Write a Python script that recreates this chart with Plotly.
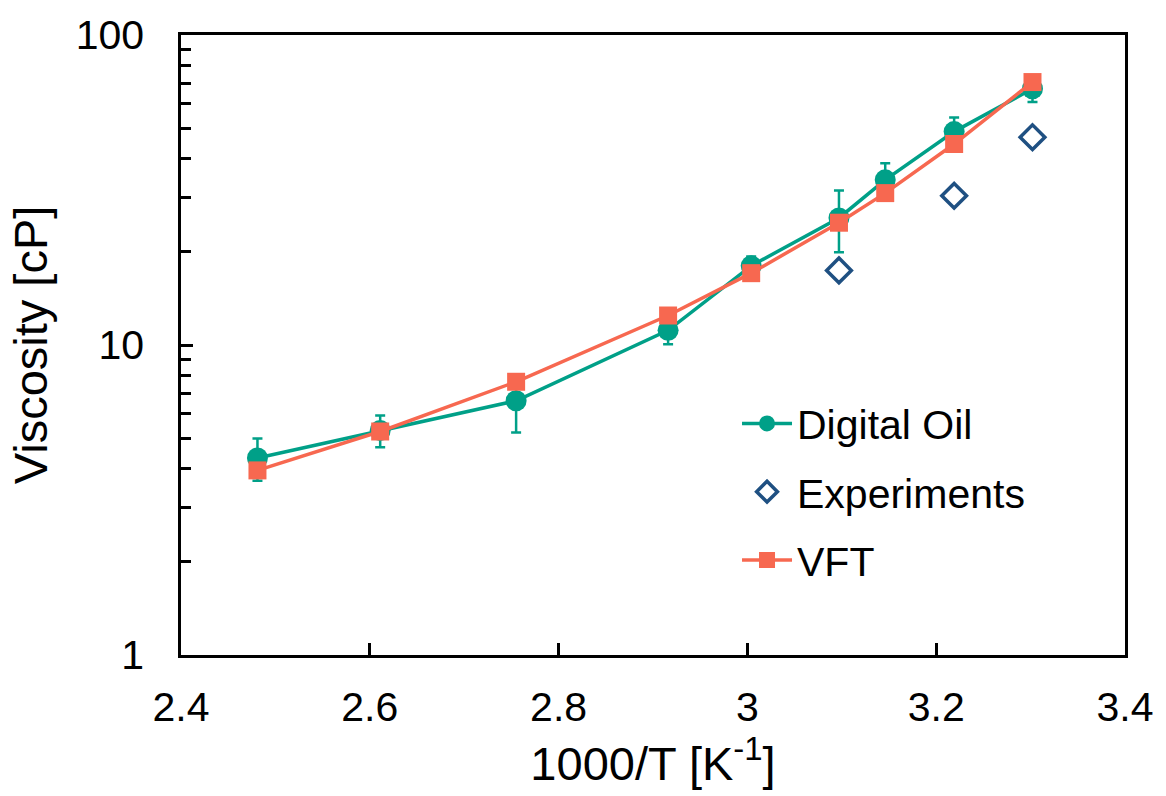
import plotly.graph_objects as go

# Data
x_do = [2.481, 2.611, 2.755, 2.916, 3.004, 3.097, 3.146, 3.219, 3.302]
y_do = [4.32, 5.30, 6.61, 11.15, 18.0, 25.7, 34.1, 48.8, 67.1]
err_do = [0.67, 0.62, 1.39, 1.10, 1.30, 5.8, 4.5, 5.4, 6.3]

x_exp = [3.097, 3.219, 3.302]
y_exp = [17.4, 30.3, 46.8]

x_vft = [2.481, 2.611, 2.755, 2.916, 3.004, 3.097, 3.146, 3.219, 3.302]
y_vft = [3.94, 5.26, 7.61, 12.45, 17.05, 24.8, 30.9, 44.5, 70.5]

teal = "#00A088"
orange = "#F76850"
navy = "#1F5082"
font_family = "Liberation Sans, Arial, sans-serif"

fig = go.Figure()
fig.add_trace(go.Scatter(
    x=x_do, y=y_do, name="Digital Oil", mode="lines+markers",
    line=dict(color=teal, width=3.5),
    marker=dict(symbol="circle", size=21, color=teal),
    error_y=dict(type="data", array=err_do, color=teal, thickness=2.5, width=5),
    legendgroup="a",
))
fig.add_trace(go.Scatter(
    x=x_exp, y=y_exp, name="Experiments", mode="markers",
    marker=dict(symbol="diamond-open", size=19, color=navy, line=dict(width=3.5, color=navy)),
    legendgroup="b",
))
fig.add_trace(go.Scatter(
    x=x_vft, y=y_vft, name="VFT", mode="lines+markers",
    line=dict(color=orange, width=3.5),
    marker=dict(symbol="square", size=18, color=orange),
    legendgroup="c",
))

fig.update_layout(
    width=1166, height=796,
    margin=dict(l=181, r=40, t=31, b=141),
    paper_bgcolor="white", plot_bgcolor="white",
    font=dict(family=font_family, size=41, color="black"),
    legend=dict(x=0.589, y=0.427, xanchor="left", yanchor="top",
                bgcolor="rgba(0,0,0,0)", font=dict(size=41),
                itemwidth=50,
                tracegroupgap=12, traceorder="grouped"),
    showlegend=True,
)
fig.update_xaxes(
    range=[2.4, 3.4], dtick=0.2, tick0=2.4,
    ticks="inside", ticklen=12, tickwidth=2.5, tickcolor="black",
    showline=True, linecolor="black", linewidth=2.5, mirror=True,
    showgrid=False, zeroline=False,
    ticklabelstandoff=14,
    title=dict(text="1000/T [K<sup>-1</sup>]", font=dict(size=47), standoff=10),
)
fig.update_yaxes(
    type="log", range=[0, 2], tickvals=[1, 10, 100], ticktext=["1", "10", "100"],
    ticks="inside", ticklen=12, tickwidth=2.5, tickcolor="black",
    minor=dict(ticks="inside", ticklen=10, tickwidth=2.5, tickcolor="black",
               tickvals=[2, 3, 4, 5, 6, 7, 8, 9, 20, 30, 40, 50, 60, 70, 80, 90], showgrid=False),
    showline=True, linecolor="black", linewidth=2.5, mirror=True,
    showgrid=False, zeroline=False,
    ticklabelstandoff=26,
    title=dict(text="Viscosity [cP]", font=dict(size=47), standoff=14),
)

fig.write_html("out.html")
